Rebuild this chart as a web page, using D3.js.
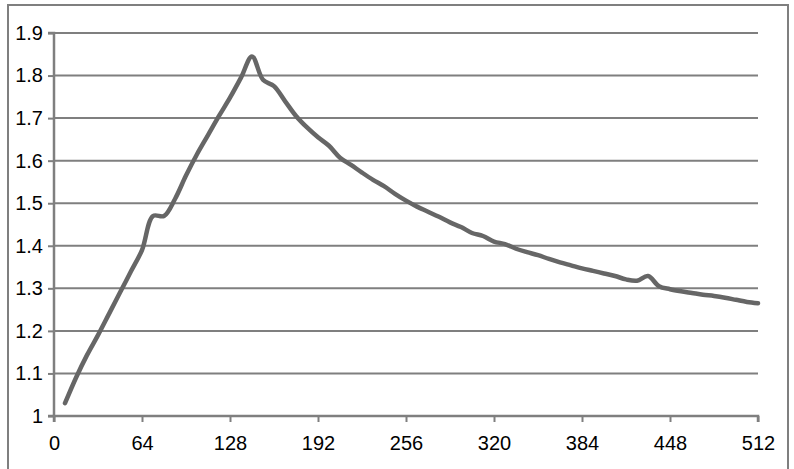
<!DOCTYPE html>
<html>
<head>
<meta charset="utf-8">
<script src="https://cdn.jsdelivr.net/npm/d3@7"></script>
<style>
  body { margin: 0; background: #fff; }
  text { font-family: "Liberation Sans", Arial, sans-serif; }
</style>
</head>
<body>
<script>
"use strict";
// x positions of the samples (every 8 steps)
const xValues = [8, 16, 24, 32, 40, 48, 56, 64, 72, 80, 88, 96, 104, 112, 120, 128,
    136, 144, 152, 160, 168, 176, 184, 192, 200, 208, 216, 224, 232, 240, 248, 256,
    264, 272, 280, 288, 296, 304, 312, 320, 328, 336, 344, 352, 360, 368, 376, 384,
    392, 400, 408, 416, 424, 432, 440, 448, 456, 464, 472, 480, 488, 496, 504, 512]
// y values
const yValues = [1.03, 1.09, 1.143, 1.19, 1.24, 1.29, 1.34, 1.39, 1.47, 1.47, 1.51, 1.565, 1.615, 1.66, 1.705, 1.748,
    1.795, 1.845, 1.79, 1.775, 1.74, 1.705, 1.678, 1.655, 1.635, 1.607, 1.59, 1.572, 1.555, 1.54, 1.522, 1.506,
    1.492, 1.48, 1.468, 1.455, 1.444, 1.43, 1.423, 1.41, 1.404, 1.393, 1.385, 1.378, 1.369, 1.361, 1.354, 1.347,
    1.341, 1.335, 1.329, 1.321, 1.318, 1.329, 1.305, 1.298, 1.293, 1.289, 1.285, 1.282, 1.278, 1.273, 1.268, 1.265]
const xTicks = [0, 64, 128, 192, 256, 320, 384, 448, 512]
const yTicks = [1, 1.1, 1.2, 1.3, 1.4, 1.5, 1.6, 1.7, 1.8, 1.9]

const measurements = { width: 794, height: 469, left: 54, right: 758, top: 33, bottom: 416 }
const grey = "#7f7f7f"

const svg = d3.select("body").append("svg")
    .attr("width", measurements.width)
    .attr("height", measurements.height)

// outer frame
svg.append("rect")
    .attr("x", 8).attr("y", 5)
    .attr("width", 780).attr("height", 470)
    .attr("fill", "none")
    .attr("stroke", grey)
    .attr("stroke-width", 2)

const scaleX = d3.scaleLinear().domain([0, 512]).range([measurements.left, measurements.right])
const scaleY = d3.scaleLinear().domain([1, 1.9]).range([measurements.bottom, measurements.top])

// horizontal gridlines
svg.append("g").selectAll("line")
    .data(yTicks.slice(1))
    .enter().append("line")
    .attr("x1", measurements.left).attr("x2", measurements.right)
    .attr("y1", d => scaleY(d)).attr("y2", d => scaleY(d))
    .attr("stroke", grey).attr("stroke-width", 2)

// y axis
const yAxis = d3.axisLeft(scaleY)
    .tickValues(yTicks)
    .tickSize(6)
    .tickPadding(5)
    .tickFormat(d => d3.format(".1f")(d).replace(/\.0$/, ""))
const gy = svg.append("g")
    .attr("transform", `translate(${measurements.left},0)`)
    .call(yAxis)

// x axis
const xAxis = d3.axisBottom(scaleX)
    .tickValues(xTicks)
    .tickSize(6)
    .tickPadding(14)
    .tickFormat(d3.format("d"))
const gx = svg.append("g")
    .attr("transform", `translate(0,${measurements.bottom})`)
    .call(xAxis)

for (const g of [gx, gy]) {
    g.select(".domain").attr("stroke", grey).attr("stroke-width", 2.5)
    g.selectAll(".tick line").attr("stroke", grey).attr("stroke-width", 2)
    g.selectAll(".tick text")
        .attr("fill", "#000")
        .style("font-size", "20px")
        .style("font-family", "'Liberation Sans', Arial, sans-serif")
}
gx.select(".domain").attr("d", `M${measurements.left},6V0H${measurements.right}V6`)
gy.select(".domain").attr("d", `M-6,${measurements.top}H0V${measurements.bottom}H-6`)

// the data line
const line = d3.line()
    .x((d, i) => scaleX(xValues[i]))
    .y(d => scaleY(d))
    .curve(d3.curveCatmullRom.alpha(0.5))

svg.append("path")
    .datum(yValues)
    .attr("d", line)
    .attr("fill", "none")
    .attr("stroke", "#666666")
    .attr("stroke-width", 4.5)
    .attr("stroke-linecap", "round")
    .attr("stroke-linejoin", "round")
</script>
</body>
</html>
